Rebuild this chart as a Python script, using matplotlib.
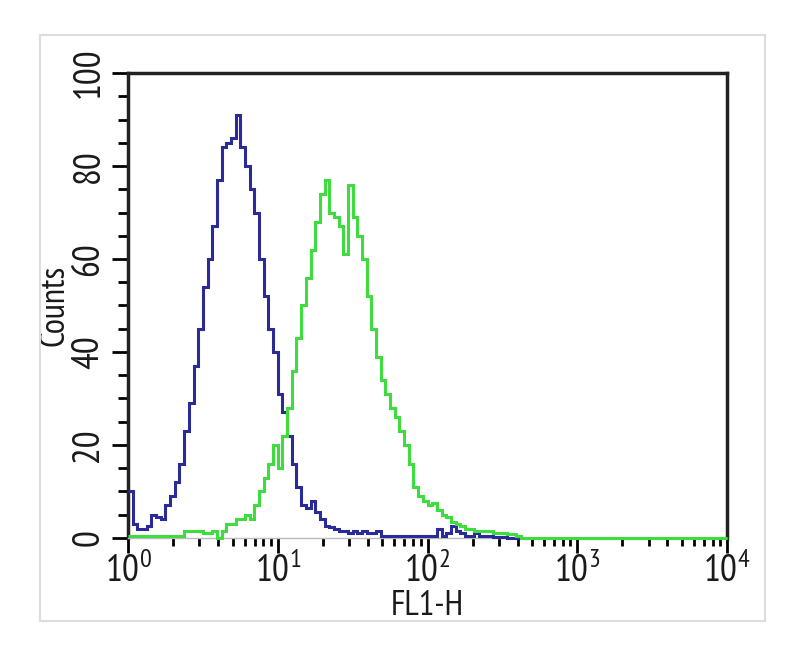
import numpy as np
import matplotlib
matplotlib.use("Agg")
import matplotlib.pyplot as plt
from matplotlib import font_manager
from matplotlib.ticker import MultipleLocator, LogLocator, NullFormatter
from matplotlib.patches import Rectangle

# histogram channels: 32 bins per decade, 10^0 .. 10^4
edges = np.logspace(0, 4, 129)

blue_counts = [
    10, 3, 2, 2, 2.5, 5, 4.5, 4, 7, 9, 12, 16, 23, 29, 37, 45,
    54, 60, 67, 77, 84, 85, 86, 91, 84, 80, 75, 70, 60, 52, 45, 40,
    31, 27, 22, 16, 11, 7, 6.5, 8, 5.5, 4, 2.5, 2.3, 2, 1.5, 1.5, 1,
    1.5, 1, 1.5, 1, 1, 1.5, 0.5, 0.5, 0.5, 0.5, 0.5, 0.5, 0.5, 0.5, 0.5, 0.5,
    0.5, 0.5, 2, 0.5, 1, 2.5, 1.5, 1, 0.5, 0.5, 1, 0.5, 0.5, 0.5, 0.3, 0.3,
    0.3, 0, 0, 0, 0, 0, 0, 0, 0, 0, 0, 0, 0, 0, 0, 0,
    0, 0, 0, 0, 0, 0, 0, 0, 0, 0, 0, 0, 0, 0, 0, 0,
    0, 0, 0, 0, 0, 0, 0, 0, 0, 0, 0, 0, 0, 0, 0, 0,
]

green_counts = [
    0.5, 0.5, 0.5, 0.5, 0.5, 0.5, 0.5, 0.5, 0.5, 0.5, 0.5, 0.5, 1.5, 1.5, 1.5, 1.5,
    1, 1, 1.5, 0, 1.5, 3, 3, 4, 4, 5, 4, 7, 10, 13, 16, 20,
    15, 22, 28, 36, 43, 50, 56, 62, 68, 74, 77, 70, 69, 67, 61, 76,
    69, 65, 60, 52, 45, 39, 34, 31, 28, 26, 23, 20, 16, 11, 9, 8,
    7, 7.5, 6, 5, 4.5, 3.5, 3, 2.5, 2, 2, 1.5, 1.5, 1.5, 1.5, 1, 1,
    1, 0.8, 0.8, 0.5, 0, 0, 0, 0, 0, 0, 0, 0, 0, 0, 0, 0,
    0, 0, 0, 0, 0, 0, 0, 0, 0, 0, 0, 0, 0, 0, 0, 0,
    0, 0, 0, 0, 0, 0, 0, 0, 0, 0, 0, 0, 0, 0, 0, 0,
]

installed = set(f.name for f in font_manager.fontManager.ttflist)
font = "DejaVu Sans Condensed"
for cand in ["Liberation Sans Narrow", "Arimo Narrow", "PT Sans Narrow",
             "Roboto Condensed", "Archivo Narrow"]:
    if cand in installed:
        font = cand
        break
plt.rcParams["font.family"] = [font, "DejaVu Sans"]
plt.rcParams["mathtext.fontset"] = "custom"
plt.rcParams["mathtext.rm"] = font
plt.rcParams["mathtext.it"] = font
plt.rcParams["mathtext.bf"] = font

fig = plt.figure(figsize=(8, 6.56), dpi=100)
ax = fig.add_axes([0.16, 0.1799, 0.7488, 0.7088])

ax.stairs(blue_counts, edges, color="#2a2a98", lw=2.2, baseline=None, clip_on=False, zorder=3)
ax.stairs(green_counts, edges, color="#3fdc3f", lw=2.2, baseline=None, clip_on=False, zorder=4)

ax.set_xscale("log")
ax.set_xlim(1, 1e4)
ax.set_ylim(0, 100)
ax.yaxis.set_major_locator(MultipleLocator(20))
ax.yaxis.set_minor_locator(MultipleLocator(5))
ax.xaxis.set_major_locator(LogLocator(base=10))
ax.xaxis.set_minor_locator(LogLocator(base=10, subs=np.arange(2, 10)))
ax.xaxis.set_minor_formatter(NullFormatter())

ax.tick_params(axis="y", which="major", length=11.5, width=2, pad=4, labelsize=27,
               labelcolor="#1a1a1a", labelrotation=90)
ax.tick_params(axis="y", which="minor", length=7, width=2)
ax.tick_params(axis="x", which="major", length=11, width=2, pad=0, labelsize=27,
               labelcolor="#1a1a1a")
ax.tick_params(axis="x", which="minor", length=5.5, width=2)
for lab in ax.get_yticklabels():
    lab.set_va("center")

for side in ["top", "right", "left"]:
    ax.spines[side].set_linewidth(2.5)
    ax.spines[side].set_color("#222222")
ax.spines["bottom"].set_linewidth(1)
ax.spines["bottom"].set_color("#bbbbbb")

ax.set_ylabel("Counts", fontsize=25, color="#1a1a1a", labelpad=1)
ax.set_xlabel("FL1-H", fontsize=25, color="#1a1a1a", labelpad=0)

fig.patches.append(Rectangle((40 / 800, 1 - 621 / 656), 725 / 800, 586 / 656,
                             transform=fig.transFigure, fill=False,
                             edgecolor="#dddddd", lw=1.5))

fig.savefig("out.png", dpi=100)
